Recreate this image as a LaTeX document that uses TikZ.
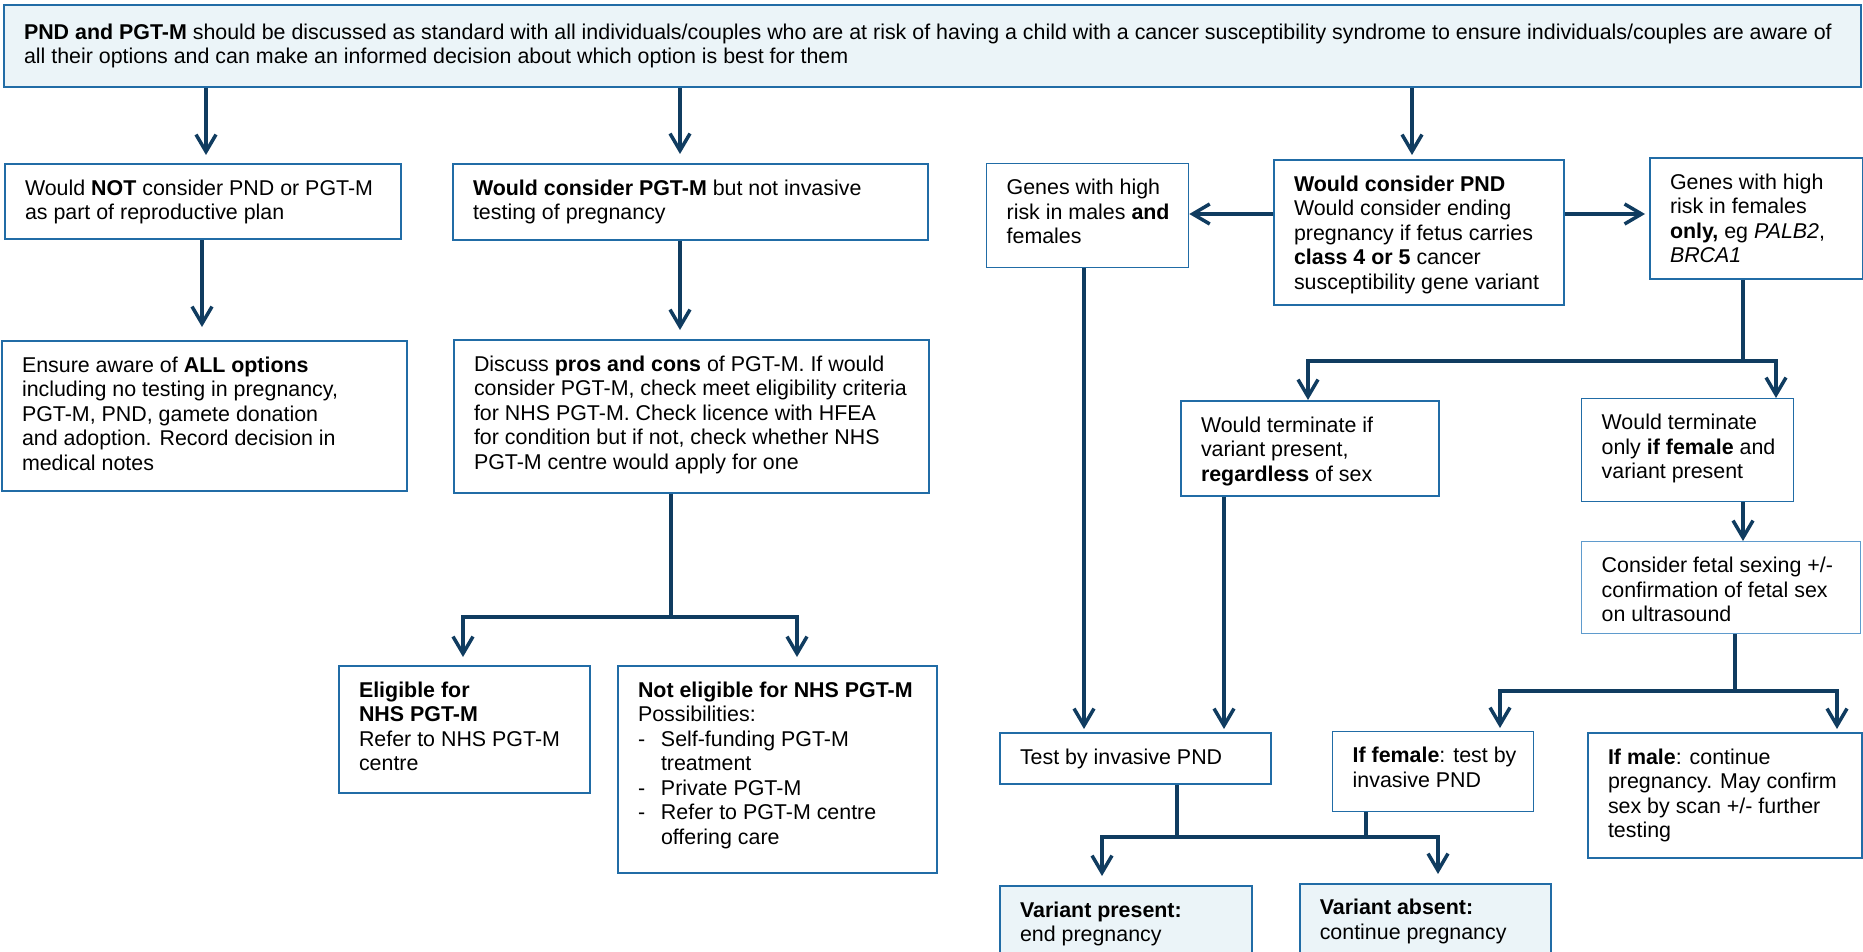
\documentclass[tikz,border=0pt]{standalone}
\usepackage{fontspec}
\setmainfont{Liberation Sans}
\usetikzlibrary{arrows.meta}
\definecolor{boxblue}{RGB}{33,108,166}
\definecolor{paleblue}{RGB}{95,155,205}
\definecolor{navy}{RGB}{16,60,96}
\definecolor{lightfill}{RGB}{235,244,248}
\newcommand{\fs}{\fontsize{21.4pt}{24.5pt}\selectfont}
\newcommand{\bxt}[3]{\begin{minipage}[t][#2pt][t]{#1pt}\fs\begin{tabular}[t]{@{}l@{}}#3\end{tabular}\end{minipage}}
\newcommand{\itm}{\makebox[23pt][l]{-}}
\newcommand{\ind}{\hspace*{23pt}}
\tikzset{
  bx/.style={draw=boxblue, line width=2pt, anchor=north west, inner xsep=20pt, inner ysep=14pt},
  bxthin/.style={bx, line width=1.3pt},
  bxpale/.style={bx, draw=paleblue, line width=1.3pt},
  bxfill/.style={bx, fill=lightfill},
  conn/.style={draw=navy, line width=3.5pt},
  arr/.style={conn, -{Straight Barb[length=17pt,width=20pt]}},
}
\begin{document}
\begin{tikzpicture}[x=1pt,y=-1pt]
\useasboundingbox (0,0) rectangle (1863,952);
\clip (0,0) rectangle (1863,952);
% nodes
\node[bxfill,inner ysep=17pt] (T) at (3,4) {\bxt{1817}{48}{\textbf{PND and PGT-M} should be discussed as standard with all individuals/couples who are at risk of having a child with a cancer susceptibility syndrome to ensure individuals/couples are aware of\\all their options and can make an informed decision about which option is best for them}};
\node[bx] (NOT) at (4,163) {\bxt{356}{47}{Would \textbf{NOT} consider PND or PGT-M\\as part of reproductive plan}};
\node[bx] (ENS) at (1,340) {\bxt{365}{122}{Ensure aware of \textbf{ALL options}\\including no testing in pregnancy,\\PGT-M, PND, gamete donation\\and adoption. Record decision in\\medical notes}};
\node[bx] (PGT) at (452,163) {\bxt{435}{48}{\textbf{Would consider PGT-M} but not invasive\\testing of pregnancy}};
\node[bx] (DIS) at (453,339) {\bxt{435}{125}{Discuss \textbf{pros and cons} of PGT-M. If would\\consider PGT-M, check meet eligibility criteria\\for NHS PGT-M. Check licence with HFEA\\for condition but if not, check whether NHS\\PGT-M centre would apply for one}};
\node[bx] (ELG) at (338,665) {\bxt{211}{99}{\textbf{Eligible for}\\\textbf{NHS PGT-M}\\Refer to NHS PGT-M\\centre}};
\node[bx] (NEL) at (617,665) {\bxt{279}{179}{\textbf{Not eligible for NHS PGT-M}\\Possibilities:\\\itm Self-funding PGT-M\\\ind treatment\\\itm Private PGT-M\\\itm Refer to PGT-M centre\\\ind offering care}};
\node[bxthin] (GMF) at (986,163) {\bxt{162}{76}{Genes with high\\risk in males \textbf{and}\\females}};
\node[bx] (PND) at (1273,159) {\bxt{250}{117}{\textbf{Would consider PND}\\Would consider ending\\pregnancy if fetus carries\\\textbf{class 4 or 5} cancer\\susceptibility gene variant}};
\node[bx] (GF) at (1649,157) {\bxt{173}{93}{Genes with high\\risk in females\\\textbf{only,} eg \textit{PALB2},\\\textit{BRCA1}}};
\node[bx] (REG) at (1180,400) {\bxt{218}{67}{Would terminate if\\variant present,\\\textbf{regardless} of sex}};
\node[bxthin] (ONL) at (1581,398) {\bxt{172}{75}{Would terminate\\only \textbf{if female} and\\variant present}};
\node[bxpale] (CON) at (1581,541) {\bxt{239}{64}{Consider fetal sexing +/-\\confirmation of fetal sex\\on ultrasound}};
\node[bx] (TST) at (999,732) {\bxt{231}{23}{Test by invasive PND}};
\node[bxthin] (IFF) at (1332,731) {\bxt{161}{52}{\textbf{If female}: test by\\invasive PND}};
\node[bx] (IFM) at (1587,732) {\bxt{234}{97}{\textbf{If male}: continue\\pregnancy. May confirm\\sex by scan +/- further\\testing}};
\node[bxfill] (VP) at (999,885) {\bxt{212}{72}{\textbf{Variant present:}\\end pregnancy}};
\node[bxfill,line width=1.5pt] (VA) at (1299,883) {\bxt{211}{74}{\textbf{Variant absent:}\\continue pregnancy}};
% coordinates
\coordinate (xa) at (206,0);
\coordinate (xb) at (680,0);
\coordinate (xc) at (1412,0);
\coordinate (xd) at (202,0);
\coordinate (dj) at (671,617);
\coordinate (xe) at (463,0);
\coordinate (xf) at (797,0);
\coordinate (ya) at (0,214);
\coordinate (xg) at (1084,0);
\coordinate (gj) at (1743,361);
\coordinate (xh) at (1308,0);
\coordinate (xi) at (1776,0);
\coordinate (xj) at (1224,0);
\coordinate (cj) at (1735,691);
\coordinate (xk) at (1500,0);
\coordinate (xl) at (1837,0);
\coordinate (tj) at (1177,837);
\coordinate (fj) at (1366,837);
\coordinate (xm) at (1102,0);
\coordinate (xn) at (1438,0);
% connectors left
\draw[arr,shorten >=8pt] (T.south -| xa) -- (NOT.north -| xa);
\draw[arr,shorten >=9pt] (T.south -| xb) -- (PGT.north -| xb);
\draw[arr,shorten >=4pt] (T.south -| xc) -- (PND.north -| xc);
\draw[arr,shorten >=13pt] (NOT.south -| xd) -- (ENS.north -| xd);
\draw[arr,shorten >=9pt] (PGT.south -| xb) -- (DIS.north -| xb);
\draw[conn] (DIS.south -| dj) -- (dj);
\draw[arr,shorten >=8pt] (dj) -| (ELG.north -| xe);
\draw[arr,shorten >=8pt] (dj) -| (NEL.north -| xf);
% connectors right
\draw[arr] (PND.west |- ya) -- (GMF.east |- ya);
\draw[arr,shorten >=4pt] (PND.east |- ya) -- (GF.west |- ya);
\draw[arr,shorten >=3pt] (GMF.south -| xg) -- (TST.north -| xg);
\draw[conn] (GF.south -| gj) -- (gj);
\draw[arr] (gj) -| (REG.north -| xh);
\draw[arr] (gj) -| (ONL.north -| xi);
\draw[arr,shorten >=3pt] (REG.south -| xj) -- (TST.north -| xj);
\draw[arr] (ONL.south -| gj) -- (CON.north -| gj);
\draw[conn] (CON.south -| cj) -- (cj);
\draw[arr,shorten >=3pt] (cj) -| (IFF.north -| xk);
\draw[arr,shorten >=3pt] (cj) -| (IFM.north -| xl);
\draw[conn] (TST.south -| tj) -- (tj);
\draw[conn] (IFF.south -| fj) -- (fj);
\draw[arr,shorten >=9pt] (fj) -| (VP.north -| xm);
\draw[arr,shorten >=9pt] (tj) -| (VA.north -| xn);
\end{tikzpicture}
\end{document}
